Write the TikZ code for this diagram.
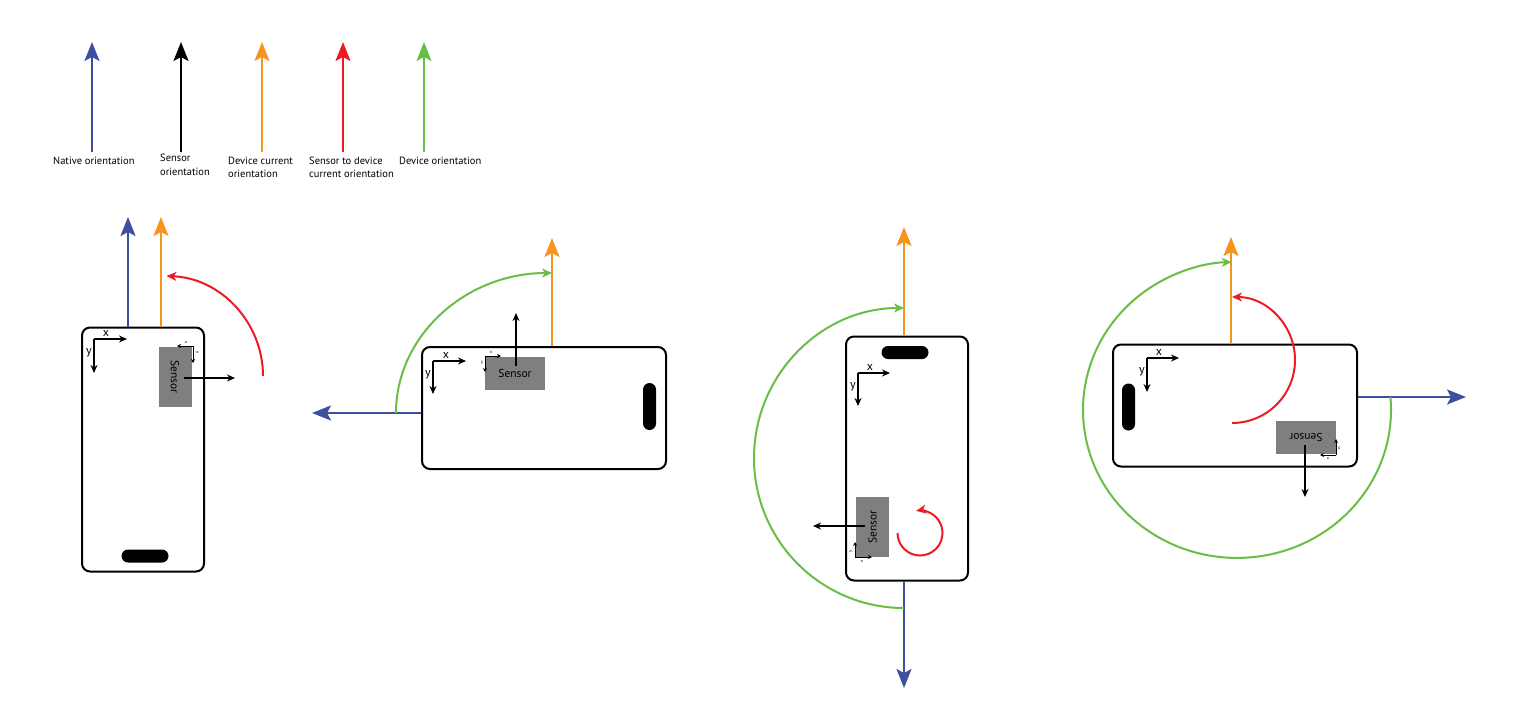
\documentclass[tikz,border=0pt]{standalone}
\usepackage{fontspec}
\setmainfont{PT Sans}
\usetikzlibrary{arrows.meta}
\definecolor{nblue}{HTML}{3F4FA0}
\definecolor{norange}{HTML}{F7941D}
\definecolor{nred}{HTML}{ED1C24}
\definecolor{ngreen}{HTML}{6ABD45}
\definecolor{sgray}{HTML}{7F7F7F}
\begin{document}
\begin{tikzpicture}[x=1pt,y=-1pt,
  big/.style={line width=2pt,-{Stealth[length=19pt,width=15pt,inset=4pt]}},
  arcarrow/.style={line width=2pt,-{Stealth[length=10pt,width=9pt,inset=3pt]}},
  axis/.style={line width=1.7pt,-{Stealth[length=8pt,width=7pt]}},
  tinyaxis/.style={line width=1pt,-{Stealth[length=4pt,width=4pt]}},
  phone/.style={draw,line width=2pt,rounded corners=8pt,inner sep=0pt,minimum width=122pt,minimum height=244pt},
  phoneh/.style={phone,minimum width=244pt,minimum height=122pt},
  sensorbox/.style={fill=sgray,inner sep=0pt,minimum width=60pt,minimum height=33pt,font=\fontsize{11.5}{12}\selectfont},
  hpill/.style={fill=black,rounded corners=6.5pt,inner sep=0pt,minimum width=47pt,minimum height=13pt},
  vpill/.style={fill=black,rounded corners=6.5pt,inner sep=0pt,minimum width=13pt,minimum height=47pt},
  legend/.style={font=\fontsize{10.5}{13.5}\selectfont,align=left,anchor=west,inner sep=0pt},
  axlabel/.style={font=\fontsize{12}{12}\selectfont,inner sep=0pt},
  tinylab/.style={font=\fontsize{4.5}{4.5}\selectfont,inner sep=0pt}]
\useasboundingbox (0,0) rectangle (1536,702);

% ---------------- legend ----------------
\foreach \n/\x/\c in {1/92/nblue,2/181/black,3/262/norange,4/343/nred,5/424/ngreen}{
  \coordinate (lb\n) at (\x,152);
  \coordinate (lt\n) at (\x,42);
  \draw[big,\c] (lb\n) -- (lt\n);
}
\node[legend] (t1) at (53,161) {Native orientation};
\node[legend] (t2) at (160,165) {Sensor\\orientation};
\node[legend] (t3) at (228,167.5) {Device current\\orientation};
\node[legend] (t4) at (309,167.5) {Sensor to device\\current orientation};
\node[legend] (t5) at (399,161) {Device orientation};

% ---------------- phone 1 ----------------
\node[phone] (p1) at (143,449.5) {};
\node[hpill] (h1) at (145,556) {};
\coordinate (b1) at (128,217);
\coordinate (o1) at (161,217);
\draw[big,nblue] (p1.north -| b1) -- (b1);
\draw[big,norange] (p1.north -| o1) -- (o1);
\coordinate (r1s) at (263,376);
\draw[arcarrow,nred] (r1s) arc[start angle=0,end angle=-88,radius=100];
\coordinate (a1) at (94,339);
\coordinate (a1x) at (127,339);
\coordinate (a1y) at (94,373);
\draw[axis] (a1) -- (a1x);
\draw[axis] (a1) -- (a1y);
\node[axlabel] (x1) at (106,333) {x};
\node[axlabel] (y1) at (89,353) {y};
\node[sensorbox,rotate=-90] (s1) at (175,377) {Sensor};
\coordinate (sa1) at (193,346);
\coordinate (sa1x) at (177,346);
\coordinate (sa1y) at (193,363);
\draw[tinyaxis] (sa1) -- (sa1x);
\draw[tinyaxis] (sa1) -- (sa1y);
\node[tinylab,rotate=-90] (sx1) at (186,342.5) {x};
\node[tinylab,rotate=-90] (sy1) at (197,353) {y};
\coordinate (k1s) at (184,378);
\coordinate (k1) at (235,378);
\draw[axis] (k1s) -- (k1);

% ---------------- phone 2 ----------------
\node[phoneh] (p2) at (544,408) {};
\node[vpill] (h2) at (649.5,406.5) {};
\coordinate (o2) at (552,238);
\draw[big,norange] (p2.north -| o2) -- (o2);
\coordinate (b2) at (312,413);
\draw[big,nblue] (p2.west |- b2) -- (b2);
\coordinate (g2s) at (396,413);
\draw[arcarrow,ngreen] (g2s) arc[start angle=180,end angle=270,x radius=156,y radius=140];
\coordinate (a2) at (433,361);
\coordinate (a2x) at (466,361);
\coordinate (a2y) at (433,394);
\draw[axis] (a2) -- (a2x);
\draw[axis] (a2) -- (a2y);
\node[axlabel] (x2) at (446,355) {x};
\node[axlabel] (y2) at (428,375) {y};
\node[sensorbox] (s2) at (515,373.5) {Sensor};
\coordinate (sa2) at (485,356);
\coordinate (sa2x) at (501,356);
\coordinate (sa2y) at (485,372);
\draw[tinyaxis] (sa2) -- (sa2x);
\draw[tinyaxis] (sa2) -- (sa2y);
\node[tinylab] (sx2) at (491,352) {x};
\node[tinylab] (sy2) at (482,363) {y};
\coordinate (k2s) at (516,366);
\coordinate (k2) at (516,313);
\draw[axis] (k2s) -- (k2);

% ---------------- phone 3 ----------------
\node[phone] (p3) at (907,458.5) {};
\node[hpill] (h3) at (905,352.5) {};
\coordinate (o3) at (904,227);
\draw[big,norange] (p3.north -| o3) -- (o3);
\coordinate (b3) at (904,688);
\draw[big,nblue] (p3.south -| b3) -- (b3);
\coordinate (g3s) at (904,608);
\draw[arcarrow,ngreen] (g3s) arc[start angle=90,end angle=270,radius=150];
\coordinate (a3) at (858,373);
\coordinate (a3x) at (890,373);
\coordinate (a3y) at (858,406);
\draw[axis] (a3) -- (a3x);
\draw[axis] (a3) -- (a3y);
\node[axlabel] (x3) at (870,367) {x};
\node[axlabel] (y3) at (853,387) {y};
\node[sensorbox,rotate=90] (s3) at (872.5,527) {Sensor};
\coordinate (sa3) at (855,557);
\coordinate (sa3x) at (872,557);
\coordinate (sa3y) at (855,542);
\draw[tinyaxis] (sa3) -- (sa3x);
\draw[tinyaxis] (sa3) -- (sa3y);
\node[tinylab,rotate=90] (sx3) at (862,561) {x};
\node[tinylab,rotate=90] (sy3) at (851,551) {y};
\coordinate (k3s) at (865,526);
\coordinate (k3) at (813,526);
\draw[axis] (k3s) -- (k3);
\coordinate (r3s) at (897.5,533);
\draw[arcarrow,nred] (r3s) arc[start angle=180,end angle=-100,radius=22.5];

% ---------------- phone 4 ----------------
\node[phoneh] (p4) at (1235,405.5) {};
\node[vpill] (h4) at (1128.5,407) {};
\coordinate (o4) at (1231,237);
\draw[big,norange] (p4.north -| o4) -- (o4);
\coordinate (b4) at (1466,397);
\draw[big,nblue] (p4.east |- b4) -- (b4);
\coordinate (g4s) at (1390.4,397);
\draw[arcarrow,ngreen] (g4s) arc[start angle=-5,end angle=268,x radius=154,y radius=148];
\coordinate (r4s) at (1232,423);
\draw[arcarrow,nred] (r4s) arc[start angle=90,end angle=-90,radius=63];
\coordinate (a4) at (1147,358);
\coordinate (a4x) at (1179,358);
\coordinate (a4y) at (1147,392);
\draw[axis] (a4) -- (a4x);
\draw[axis] (a4) -- (a4y);
\node[axlabel] (x4) at (1159,352) {x};
\node[axlabel] (y4) at (1142,372) {y};
\node[sensorbox,rotate=180] (s4) at (1306,437.5) {Sensor};
\coordinate (sa4) at (1336,455);
\coordinate (sa4x) at (1320,455);
\coordinate (sa4y) at (1336,439);
\draw[tinyaxis] (sa4) -- (sa4x);
\draw[tinyaxis] (sa4) -- (sa4y);
\node[tinylab,rotate=180] (sx4) at (1328,459) {x};
\node[tinylab,rotate=180] (sy4) at (1339,448) {y};
\coordinate (k4s) at (1305,445);
\coordinate (k4) at (1305,497);
\draw[axis] (k4s) -- (k4);
\end{tikzpicture}
\end{document}
